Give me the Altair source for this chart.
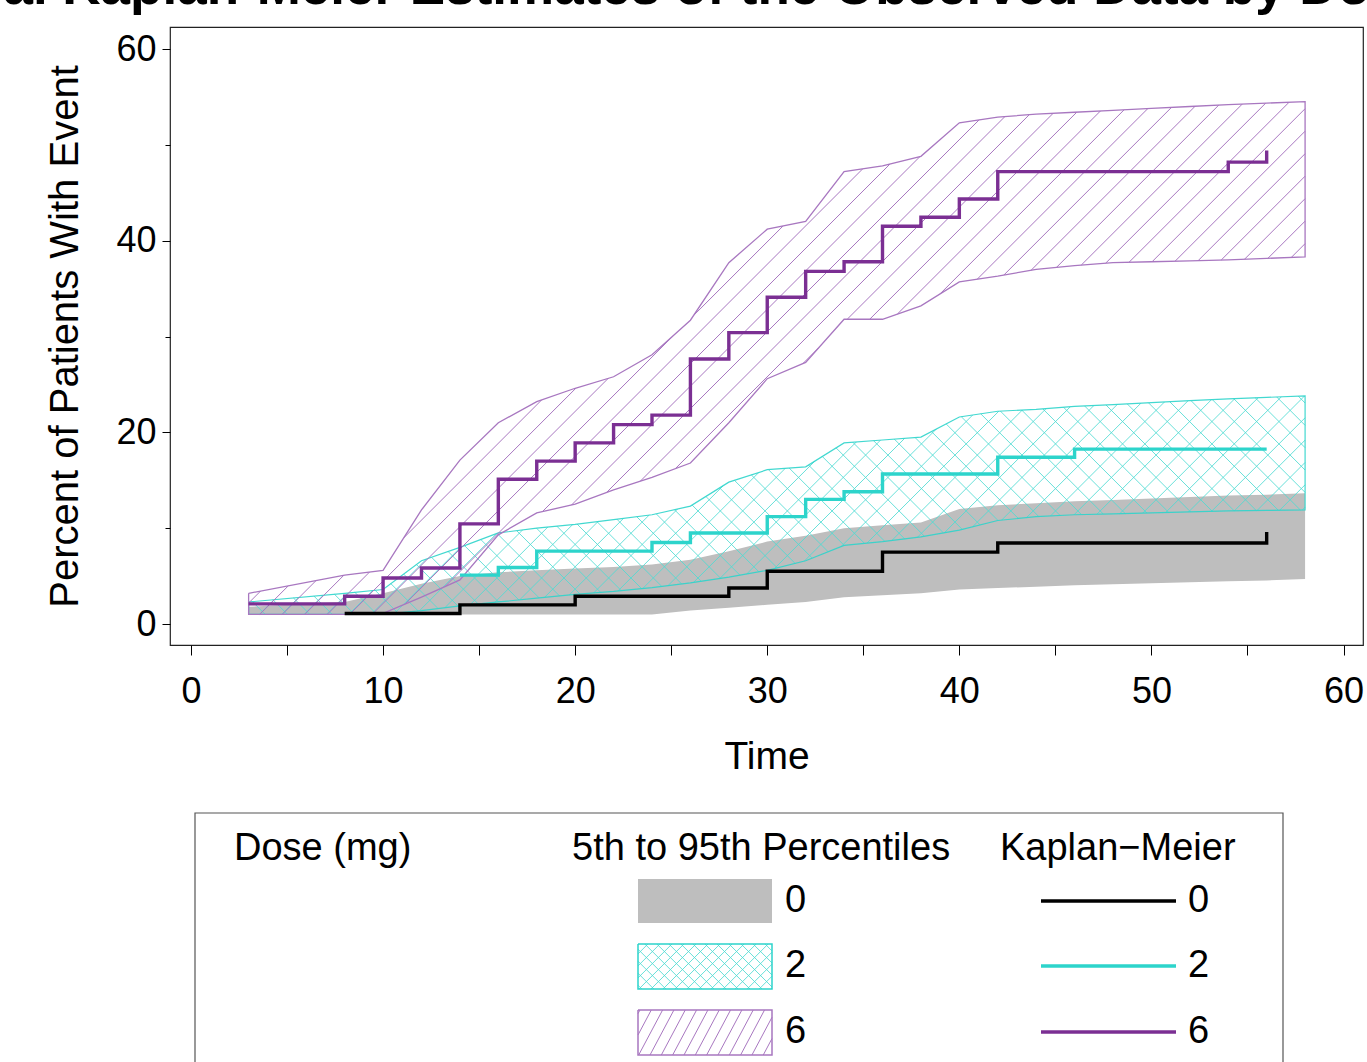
import math
import numpy as np
import pandas as pd
import altair as alt

# ---------------- data ----------------
band_t = [3, 8, 10, 12, 14, 16, 18, 20, 22, 24, 26, 28, 30, 32, 34, 36, 38, 40,
          42, 44, 46, 48, 50, 52, 54, 56, 58]

# 5th-95th percentile band, dose 0 mg
p0_lo = [1.0, 1.0, 1.0, 1.0, 1.0, 1.0, 1.0, 1.0, 1.0, 1.0, 1.4, 1.7, 2.0, 2.3, 2.8, 3.0, 3.2, 3.6,
         3.75, 3.9, 4.05, 4.15, 4.25, 4.35, 4.45, 4.55, 4.7]
p0_hi = [1.8, 2.3, 3.2, 4.2, 5.0, 5.4, 5.6, 5.8, 5.95, 6.2, 6.7, 7.6, 8.6, 9.2, 10.0, 10.3, 10.6, 12.0,
         12.4, 12.6, 12.8, 12.95, 13.1, 13.25, 13.4, 13.5, 13.65]
# dose 2 mg
p2_lo = [1.0, 1.0, 1.0, 1.4, 1.9, 2.3, 2.7, 3.1, 3.4, 3.8, 4.3, 4.9, 5.6, 6.6, 8.2, 8.6, 9.1, 9.8,
         10.8, 11.2, 11.4, 11.5, 11.6, 11.7, 11.8, 11.85, 11.9]
p2_hi = [2.3, 3.2, 3.6, 6.6, 8.0, 9.5, 10.0, 10.4, 10.9, 11.4, 12.3, 14.8, 16.1, 16.4, 18.9, 19.2, 19.5, 21.6,
         22.2, 22.4, 22.7, 22.9, 23.1, 23.3, 23.5, 23.65, 23.8]
# dose 6 mg
p6_lo = [1.0, 1.0, 1.1, 2.8, 4.6, 9.3, 11.6, 12.5, 14.0, 15.3, 16.8, 21.0, 25.6, 27.3, 31.8, 31.8, 33.2, 35.7,
         36.3, 37.0, 37.4, 37.7, 37.8, 37.9, 38.0, 38.15, 38.3]
p6_hi = [3.2, 5.1, 5.6, 11.9, 17.1, 21.0, 23.2, 24.6, 25.8, 28.1, 31.7, 37.7, 41.2, 42.0, 47.2, 47.8, 48.8, 52.3,
         52.9, 53.2, 53.4, 53.6, 53.8, 54.0, 54.2, 54.35, 54.5]

# Observed Kaplan-Meier estimates (step functions)
km0_t = [8, 14, 20, 28, 30, 36, 42, 56]
km0_v = [1.1, 2.0, 2.9, 3.75, 5.5, 7.5, 8.45, 9.6]
km2_t = [14, 16, 18, 24, 26, 30, 32, 34, 36, 42, 46, 56]
km2_v = [5.1, 5.9, 7.6, 8.5, 9.5, 11.2, 13.0, 13.8, 15.65, 17.4, 18.25, 18.25]
km6_t = [3, 8, 10, 12, 14, 16, 18, 20, 22, 24, 26, 28, 30, 32, 34, 36, 38, 40, 42, 54, 56]
km6_v = [2.1, 2.9, 4.8, 5.85, 10.45, 15.1, 17.0, 18.9, 20.8, 21.8, 27.65, 30.4, 34.1, 36.8, 37.8,
         41.5, 42.45, 44.35, 47.2, 48.2, 49.4]

doses = ["0", "2", "6"]
x_ticks = list(range(0, 61, 5))
y_ticks = list(range(0, 61, 10))

title_text = "Empirical Kaplan-Meier Estimates of the Observed Data by Dose"
x_title = "Time"
y_title = "Percent of Patients With Event"
legend_dose = "Dose (mg)"
legend_band = "5th to 95th Percentiles"
legend_km = "Kaplan\u2212Meier"

# ---------------- style / layout ----------------
GRAY = "#BEBEBE"
CYAN = "#2DD4CB"
PURPLE = "#7B2F93"
PURPLE_HATCH = "#A877C0"
CYAN_HATCH = "#4FDAD2"
FONT = "Liberation Sans, Arial, Helvetica, sans-serif"

W, H = 1193, 618
LEFT, TOP = 170, 27
XD = [-1.093, 61.015]
YD = [-2.191, 62.296]
sx = W / (XD[1] - XD[0])
sy = H / (YD[1] - YD[0])


def to_px(t, v):
    return ((t - XD[0]) * sx, (v - YD[0]) * sy)


def to_data(X, Y):
    return (X / sx + XD[0], Y / sy + YD[0])


def abs_to_data(ax, ay):
    return to_data(ax - LEFT, H - (ay - TOP))


def hatch_segments(poly, angle_deg, spacing, phase=0.37):
    th = math.radians(angle_deg)
    d = np.array([math.cos(th), math.sin(th)])
    n = np.array([-math.sin(th), math.cos(th)])
    P = np.array(poly, dtype=float)
    cv = P @ n
    cmin, cmax = cv.min(), cv.max()
    segs = []
    k = math.floor(cmin / spacing) - 1
    while True:
        c = (k + phase) * spacing
        k += 1
        if c > cmax:
            break
        if c < cmin:
            continue
        hits = []
        m = len(P)
        for i in range(m):
            a, b = P[i], P[(i + 1) % m]
            fa, fb = a @ n - c, b @ n - c
            if (fa < 0) != (fb < 0):
                s = fa / (fa - fb)
                hits.append(a + s * (b - a))
        hits.sort(key=lambda p: p @ d)
        for j in range(0, len(hits) - 1, 2):
            segs.append((hits[j], hits[j + 1]))
    return segs


def segs_to_df(segs):
    rows = []
    for a, b in segs:
        t1, v1 = to_data(*a)
        t2, v2 = to_data(*b)
        rows.append({"x": t1, "y": v1, "x2": t2, "y2": v2})
    return pd.DataFrame(rows, columns=["x", "y", "x2", "y2"])


def band_poly_px(lo, hi):
    up = [to_px(t, v) for t, v in zip(band_t, hi)]
    dn = [to_px(t, v) for t, v in zip(band_t[::-1], lo[::-1])]
    return up + dn


def outline_df(lo, hi):
    pts = list(zip(band_t, hi)) + list(zip(band_t[::-1], lo[::-1]))
    pts.append(pts[0])
    return pd.DataFrame({"x": [p[0] for p in pts], "y": [p[1] for p in pts],
                         "i": list(range(len(pts)))})


def rect_poly_abs(x1, y1, x2, y2):
    return [(x1 - LEFT, H - (y1 - TOP)), (x2 - LEFT, H - (y1 - TOP)),
            (x2 - LEFT, H - (y2 - TOP)), (x1 - LEFT, H - (y2 - TOP))]


def rect_outline_df(x1, y1, x2, y2):
    pts = [abs_to_data(x1, y1), abs_to_data(x2, y1), abs_to_data(x2, y2),
           abs_to_data(x1, y2), abs_to_data(x1, y1)]
    return pd.DataFrame({"x": [p[0] for p in pts], "y": [p[1] for p in pts],
                         "i": list(range(len(pts)))})


xs = alt.Scale(domain=XD, nice=False, zero=False)
ys = alt.Scale(domain=YD, nice=False, zero=False)

x_axis = alt.Axis(values=x_ticks, title=x_title, grid=False, domain=False,
                  labelExpr="datum.value % 10 == 0 ? datum.label : ''",
                  tickSize=10, tickColor="black", tickWidth=1, labelPadding=19,
                  labelFont=FONT, labelFontSize=36, labelColor="black",
                  labelFlush=False, labelOverlap=False,
                  titleFont=FONT, titleFontSize=39, titleFontWeight="normal",
                  titleColor="black", titleX=W / 2, titleY=123,
                  titleBaseline="alphabetic", titleAlign="center")
y_axis = alt.Axis(values=y_ticks, title=y_title, grid=False, domain=False,
                  labelExpr="datum.value % 20 == 0 ? datum.label : ''",
                  tickSize={"condition": {"test": "datum.value % 20 === 0", "value": 8}, "value": 5},
                  tickColor="black", tickWidth=1, labelPadding=6,
                  labelFont=FONT, labelFontSize=36, labelColor="black",
                  labelFlush=False, labelOverlap=False,
                  titleFont=FONT, titleFontSize=40, titleFontWeight="normal",
                  titleColor="black", titleX=-93, titleY=H / 2, titleAngle=270,
                  titleBaseline="alphabetic", titleAlign="center")


def X(f="x"):
    return alt.X(f"{f}:Q", scale=xs, axis=x_axis)


def Y(f="y"):
    return alt.Y(f"{f}:Q", scale=ys, axis=y_axis)


layers = []

# ---- gray band (0 mg) ----
df0 = pd.DataFrame({"x": band_t, "y": p0_lo, "hi": p0_hi})
layers.append(alt.Chart(df0).mark_area(color=GRAY, opacity=1).encode(x=X(), y=Y(), y2="hi:Q"))

# ---- cyan band (2 mg): cross hatch + outline ----
poly2 = band_poly_px(p2_lo, p2_hi)
hatch2 = pd.concat([segs_to_df(hatch_segments(poly2, 45, 15.8)),
                    segs_to_df(hatch_segments(poly2, 135, 15.8))], ignore_index=True)
layers.append(alt.Chart(hatch2).mark_rule(color=CYAN_HATCH, strokeWidth=1, opacity=0.85).encode(
    x=X(), y=Y(), x2="x2:Q", y2="y2:Q"))
layers.append(alt.Chart(outline_df(p2_lo, p2_hi)).mark_line(color=CYAN, strokeWidth=1.2, opacity=0.9).encode(
    x=X(), y=Y(), order="i:Q"))

# ---- purple band (6 mg): hatch + outline ----
poly6 = band_poly_px(p6_lo, p6_hi)
hatch6 = segs_to_df(hatch_segments(poly6, 45, 15.9))
layers.append(alt.Chart(hatch6).mark_rule(color=PURPLE_HATCH, strokeWidth=1).encode(
    x=X(), y=Y(), x2="x2:Q", y2="y2:Q"))
layers.append(alt.Chart(outline_df(p6_lo, p6_hi)).mark_line(color=PURPLE_HATCH, strokeWidth=1.3).encode(
    x=X(), y=Y(), order="i:Q"))

# ---- Kaplan-Meier step lines ----
for tt, vv, col in [(km0_t, km0_v, "black"), (km2_t, km2_v, CYAN), (km6_t, km6_v, PURPLE)]:
    dfk = pd.DataFrame({"x": tt, "y": vv})
    layers.append(alt.Chart(dfk).mark_line(interpolate="step-after", color=col, strokeWidth=3.4).encode(
        x=X(), y=Y()))

# ---- legend (drawn below the plot) ----
bx1, by1 = abs_to_data(195, 813)
bx2, by2 = abs_to_data(1283, 1100)
box_df = pd.DataFrame({"x": [bx1], "y": [by1], "x2": [bx2], "y2": [by2]})
layers.append(alt.Chart(box_df).mark_rect(fill="white", fillOpacity=0, stroke="#555555", strokeWidth=1.2).encode(
    x=X(), y=Y(), x2="x2:Q", y2="y2:Q"))

hdr_pos = [(234, 860), (572, 860), (1000, 860)]
hdr_df = pd.DataFrame({
    "x": [abs_to_data(a, b)[0] for a, b in hdr_pos],
    "y": [abs_to_data(a, b)[1] for a, b in hdr_pos],
    "label": [legend_dose, legend_band, legend_km],
})
layers.append(alt.Chart(hdr_df).mark_text(align="left", baseline="alphabetic", font=FONT,
                                          fontSize=38, color="black").encode(
    x=X(), y=Y(), text="label:N"))

sw_rows = [(879, 923), (944, 989), (1010, 1055)]
sw_x1, sw_x2 = 638, 772
# gray swatch
g1 = abs_to_data(sw_x1, sw_rows[0][0])
g2 = abs_to_data(sw_x2, sw_rows[0][1])
layers.append(alt.Chart(pd.DataFrame({"x": [g1[0]], "y": [g1[1]], "x2": [g2[0]], "y2": [g2[1]]}))
              .mark_rect(fill=GRAY).encode(x=X(), y=Y(), x2="x2:Q", y2="y2:Q"))
# cyan swatch
r = rect_poly_abs(sw_x1, sw_rows[1][0], sw_x2, sw_rows[1][1])
sw2 = pd.concat([segs_to_df(hatch_segments(r, 45, 8.5)), segs_to_df(hatch_segments(r, 135, 8.5))],
                ignore_index=True)
layers.append(alt.Chart(sw2).mark_rule(color=CYAN_HATCH, strokeWidth=1, opacity=0.85).encode(
    x=X(), y=Y(), x2="x2:Q", y2="y2:Q"))
layers.append(alt.Chart(rect_outline_df(sw_x1, sw_rows[1][0], sw_x2, sw_rows[1][1]))
              .mark_line(color=CYAN, strokeWidth=1.5).encode(x=X(), y=Y(), order="i:Q"))
# purple swatch
r = rect_poly_abs(sw_x1, sw_rows[2][0], sw_x2, sw_rows[2][1])
sw6 = segs_to_df(hatch_segments(r, 62, 10))
layers.append(alt.Chart(sw6).mark_rule(color=PURPLE_HATCH, strokeWidth=1).encode(
    x=X(), y=Y(), x2="x2:Q", y2="y2:Q"))
layers.append(alt.Chart(rect_outline_df(sw_x1, sw_rows[2][0], sw_x2, sw_rows[2][1]))
              .mark_line(color=PURPLE_HATCH, strokeWidth=1.5).encode(x=X(), y=Y(), order="i:Q"))

# legend line samples
ly = [901, 966, 1032]
lines_df = pd.DataFrame({
    "x": [abs_to_data(1041, yy)[0] for yy in ly],
    "x2": [abs_to_data(1176, yy)[0] for yy in ly],
    "y": [abs_to_data(1041, yy)[1] for yy in ly],
    "c": ["black", CYAN, PURPLE],
})
layers.append(alt.Chart(lines_df).mark_rule(strokeWidth=3.4).encode(
    x=X(), x2="x2:Q", y=Y(), color=alt.Color("c:N", scale=None)))

lab_rows = []
for dlab, yy in zip(doses, ly):
    for xx in (785, 1188):
        px_, py_ = abs_to_data(xx, yy)
        lab_rows.append({"x": px_, "y": py_, "label": dlab})
layers.append(alt.Chart(pd.DataFrame(lab_rows)).mark_text(align="left", baseline="middle", font=FONT,
                                                          fontSize=38, color="black").encode(
    x=X(), y=Y(), text="label:N"))

# ---- big title, mostly above the page ----
tx, ty = abs_to_data(-191, 4)
layers.append(alt.Chart(pd.DataFrame({"x": [tx], "y": [ty], "label": [title_text]}))
              .mark_text(align="left", baseline="alphabetic", font=FONT, fontSize=53,
                         fontWeight="bold", color="black").encode(x=X(), y=Y(), text="label:N"))

chart = alt.layer(*layers).properties(
    width=W, height=H,
    autosize=alt.AutoSizeParams(type="none"),
    padding={"left": LEFT, "top": TOP, "right": 1367 - LEFT - W, "bottom": 1062 - TOP - H},
).configure_view(stroke="#222222", strokeWidth=1.2)

chart.save("out.html", embed_options={"renderer": "svg", "actions": False})
